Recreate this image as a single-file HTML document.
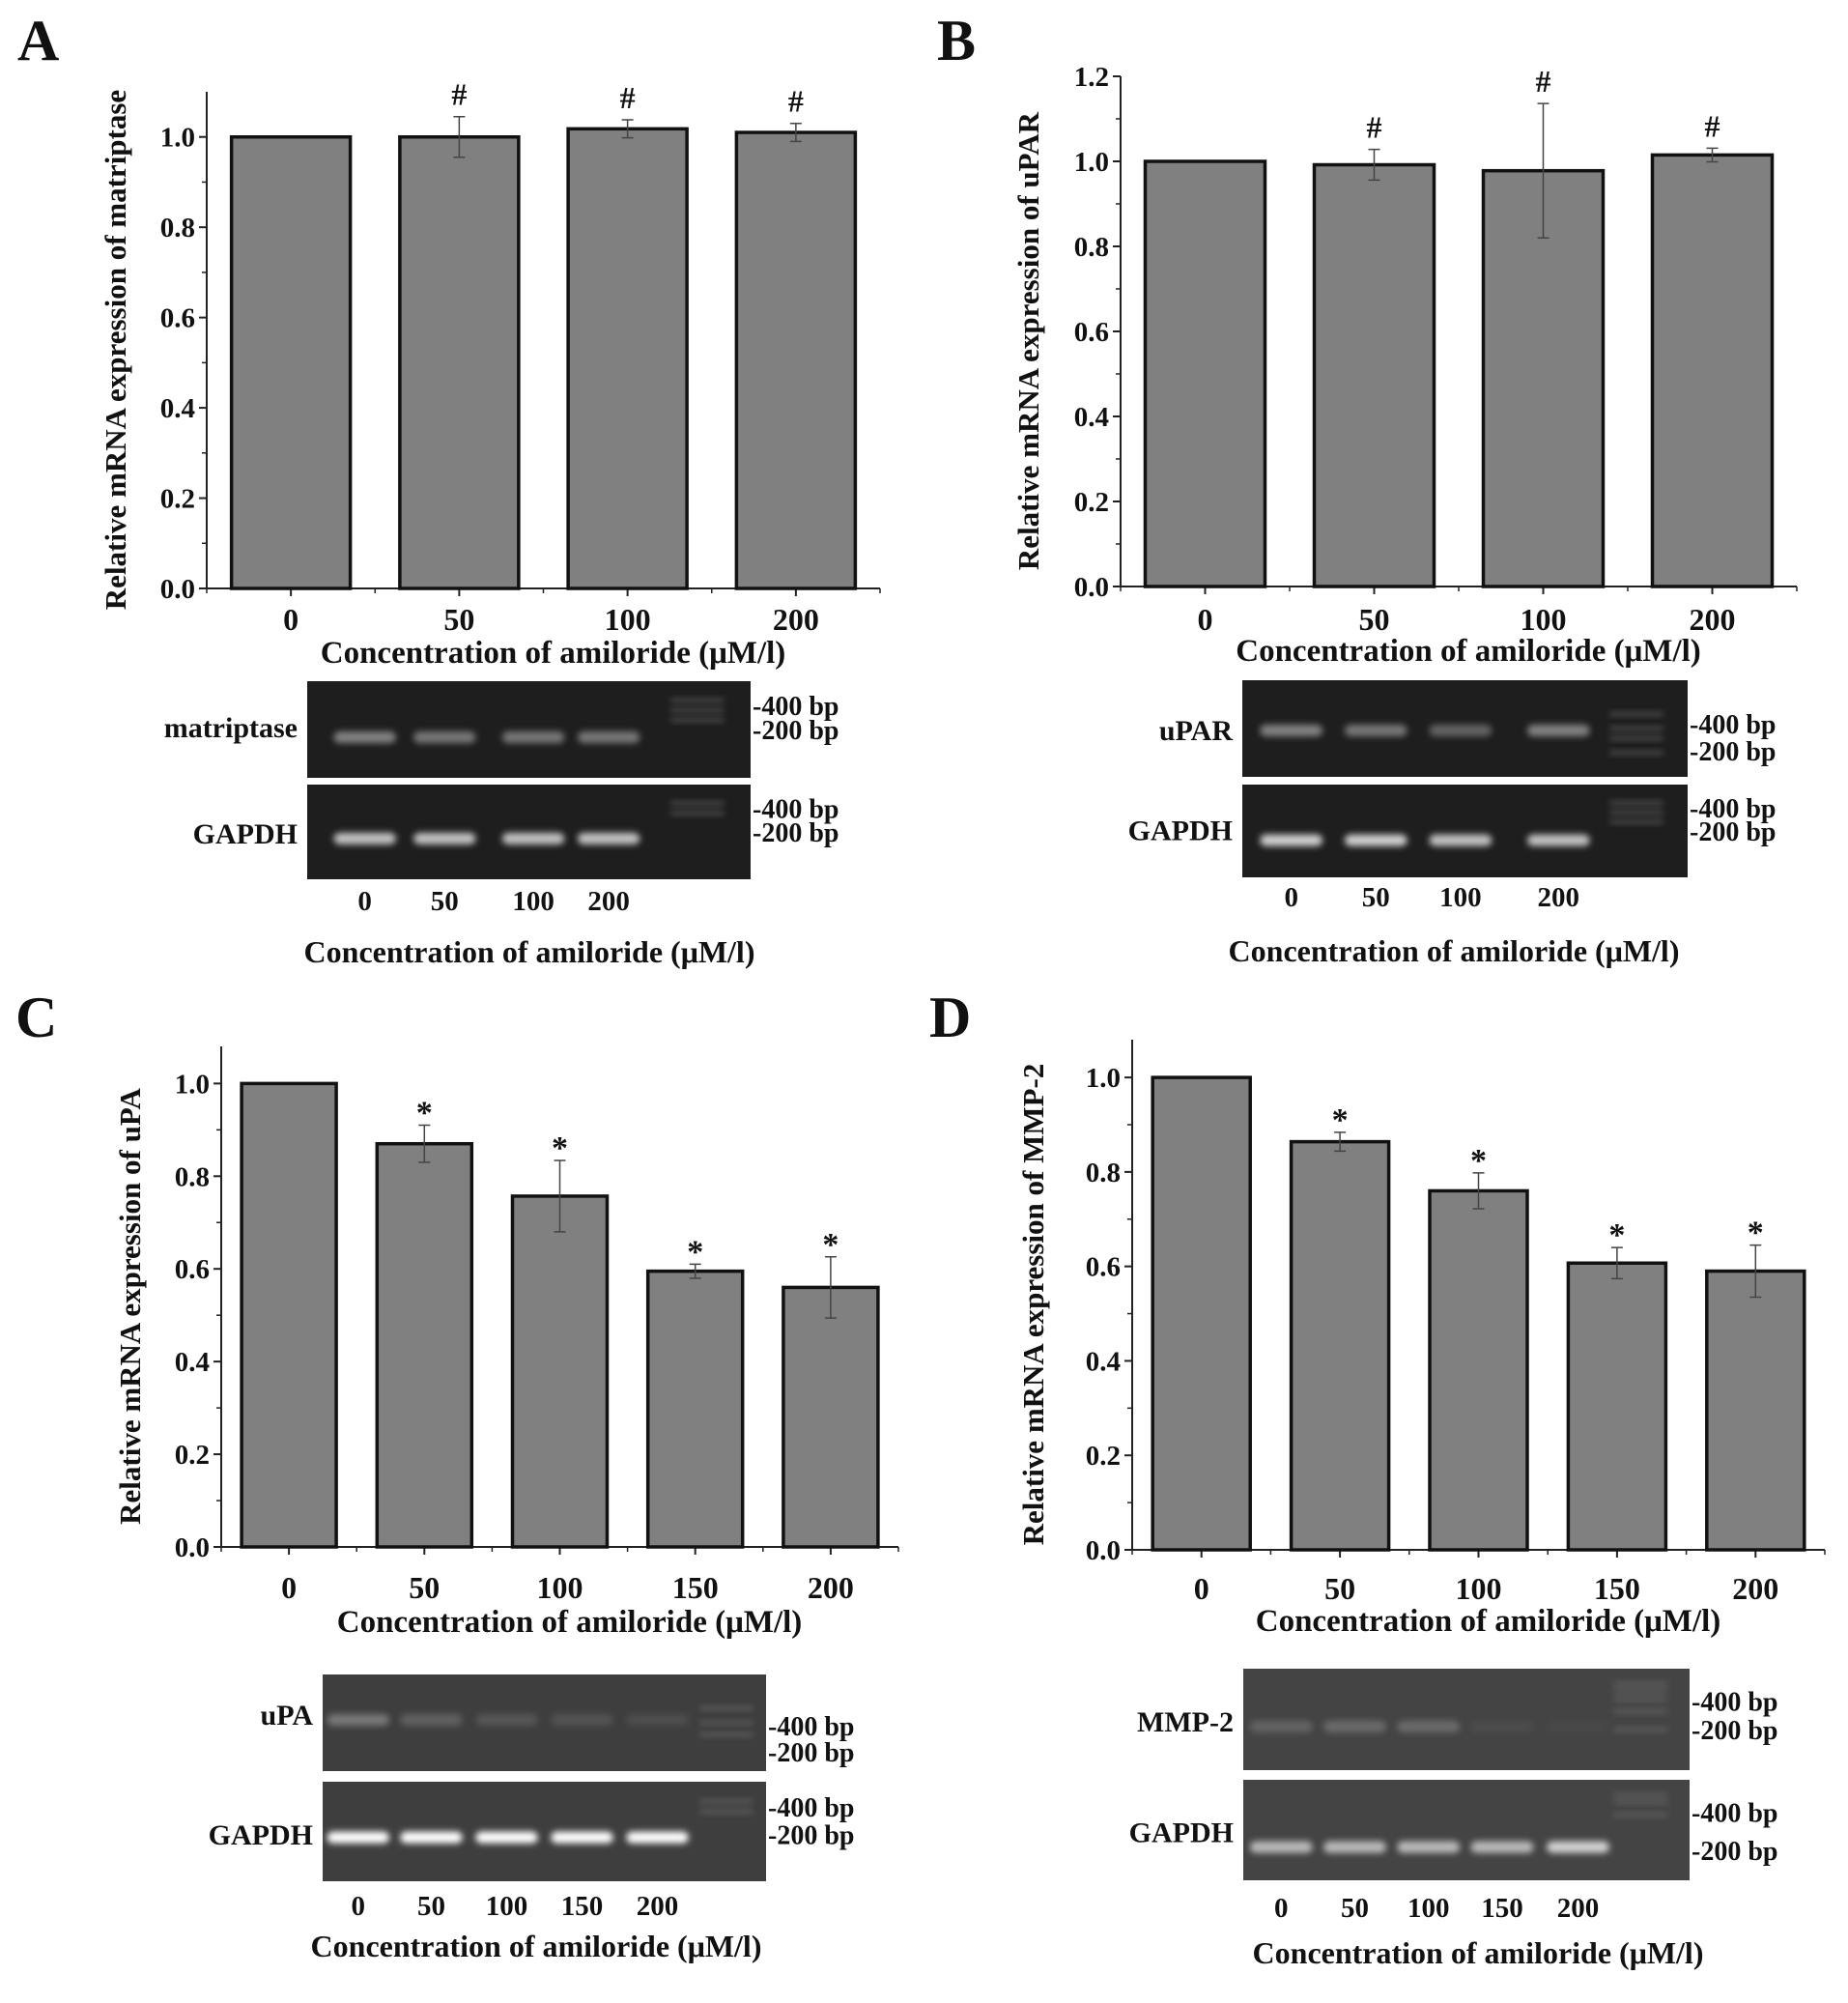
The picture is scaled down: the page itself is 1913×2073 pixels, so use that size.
<!DOCTYPE html>
<html><head><meta charset="utf-8">
<style>
body{margin:0;background:#fff;}
svg text{font-family:"Liberation Serif",serif;font-weight:bold;fill:#111;}
</style></head>
<body>
<svg id="fig" width="1913" height="2068" viewBox="0 0 1913 2068" xmlns="http://www.w3.org/2000/svg">
<defs>
<filter id="blur" x="-20%" y="-100%" width="140%" height="300%"><feGaussianBlur stdDeviation="3.5"/></filter>
</defs>
</svg>
<script>
// Panel A data
const catsA = ["0","50","100","200"];
const valsA = [1.0, 1.0, 1.018, 1.01];
const errsA = [0, 0.045, 0.02, 0.02];
const marksA = ["", "#", "#", "#"];
const ticksA = [0,0.2,0.4,0.6,0.8,1.0];
// Panel B data
const catsB = ["0","50","100","200"];
const valsB = [1.0, 0.992, 0.978, 1.015];
const errsB = [0, 0.036, 0.158, 0.016];
const marksB = ["", "#", "#", "#"];
const ticksB = [0,0.2,0.4,0.6,0.8,1.0,1.2];
// Panel C data
const catsC = ["0","50","100","150","200"];
const valsC = [1.0, 0.87, 0.757, 0.595, 0.56];
const errsC = [0, 0.04, 0.077, 0.015, 0.066];
const marksC = ["", "*", "*", "*", "*"];
const ticksC = [0,0.2,0.4,0.6,0.8,1.0];
// Panel D data
const catsD = ["0","50","100","150","200"];
const valsD = [1.0, 0.864, 0.76, 0.607, 0.59];
const errsD = [0, 0.02, 0.038, 0.033, 0.055];
const marksD = ["", "*", "*", "*", "*"];
const ticksD = [0,0.2,0.4,0.6,0.8,1.0];
// Gel band intensities (0..1)
const gelA1 = [0.55,0.5,0.5,0.5]; const gelA2 = [0.8,0.8,0.8,0.8];
const gelB1 = [0.55,0.5,0.4,0.55]; const gelB2 = [0.85,0.85,0.8,0.8];
const gelC1 = [0.45,0.3,0.22,0.2,0.15]; const gelC2 = [1,1,1,1,1];
const gelD1 = [0.3,0.35,0.35,0.1,0.05]; const gelD2 = [0.75,0.75,0.75,0.75,0.85];

const NS="http://www.w3.org/2000/svg";
const svg=document.getElementById('fig');
function mk(tag,attrs,parent,text){const e=document.createElementNS(NS,tag);for(const k in attrs)e.setAttribute(k,attrs[k]);if(text!==undefined)e.textContent=text;(parent||svg).appendChild(e);return e;}

function panel(p){
  const g=mk('g',{});
  
  
  const lab=mk('text',{x:p.lx,y:p.ly,'font-size':60},g,p.id);
  
  
  const y=v=>p.y0-(v/p.ymax)*(p.y0-p.ytop);
  const n=p.cats.length;
  const step=(p.xr-p.xl)/n;
  const cx=i=>p.xl+step*(i+0.5);
  const ax=mk('path',{d:`M${p.xl},${p.ytop} V${p.y0} H${p.xr}`,stroke:'#222','stroke-width':2,fill:'none'},g);
  
  
  p.ticks.forEach(t=>{
    mk('line',{x1:p.xl-8,x2:p.xl,y1:y(t),y2:y(t),stroke:'#222','stroke-width':2},g);
    const tl=mk('text',{x:p.xl-12,y:y(t)+10,'font-size':29,'text-anchor':'end'},g,t.toFixed(1));
    
    
  });
  for(let i=0;i<p.ticks.length-1;i++){const m=(p.ticks[i]+p.ticks[i+1])/2;mk('line',{x1:p.xl-5,x2:p.xl,y1:y(m),y2:y(m),stroke:'#222','stroke-width':1.5},g);}
  for(let i=0;i<=n;i++){mk('line',{x1:p.xl+step*i,x2:p.xl+step*i,y1:p.y0,y2:p.y0+5,stroke:'#222','stroke-width':1.5},g);}
  p.cats.forEach((c,i)=>{
    mk('line',{x1:cx(i),x2:cx(i),y1:p.y0,y2:p.y0+8,stroke:'#222','stroke-width':2},g);
    const tl=mk('text',{x:cx(i),y:p.tly,'font-size':32,'text-anchor':'middle'},g,c);
    
    
    const b=mk('rect',{x:cx(i)-p.bw/2,y:y(p.vals[i]),width:p.bw,height:p.y0-y(p.vals[i]),fill:'#808080',stroke:'#111','stroke-width':3.5},g);
    
    
    if(p.errs[i]>0){
      const e1=y(p.vals[i]+p.errs[i]),e2=y(p.vals[i]-p.errs[i]);
      const eb=mk('path',{d:`M${cx(i)},${e1}V${e2}M${cx(i)-6},${e1}H${cx(i)+6}M${cx(i)-6},${e2}H${cx(i)+6}`,stroke:'#444','stroke-width':1.5,fill:'none'},g);
      
      
    }
    if(p.marks[i]){
      const top=y(p.vals[i]+p.errs[i]);
      const mt=mk('text',{x:cx(i),y:top-(p.marks[i]==='#'?12:2),'font-size':p.marks[i]==='#'?32:34,'text-anchor':'middle',fill:'#222'},g,p.marks[i]);
      
      
    }
  });
  const xt=mk('text',{x:(p.xl+p.xr)/2+10,y:p.xty,'font-size':33,'text-anchor':'middle'},g,'Concentration of amiloride (μM/l)');
  
  
  const yt=mk('text',{x:0,y:0,'font-size':31,'text-anchor':'middle',transform:`translate(${p.ytx},${(p.ytop+p.y0)/2+10}) rotate(-90)`},g,p.ytitle);
  
  
  p.gels.forEach((gl,k)=>{
    const gg=mk('g',{},g);
    
    
    const w=p.gx2-p.gx1,h=gl.y2-gl.y1;
    mk('rect',{x:p.gx1,y:gl.y1,width:w,height:h,fill:p.gelbg},gg);
    gl.ints.forEach((v,i)=>{
      const bx=p.gx1+w*p.lanes[i];
      const c=Math.round(70+185*v);
      mk('rect',{x:bx-w*0.07,y:gl.y1+h*gl.by-6,width:w*0.14,height:12,rx:6,fill:`rgb(${c},${c},${c})`,opacity:0.35+0.65*v,filter:'url(#blur)'},gg);
    });
    const lx=p.gx1+w*p.ladder;
    gl.lad.forEach(f=>mk('rect',{x:lx-w*0.06,y:gl.y1+h*f-2,width:w*0.12,height:4,fill:'#777',opacity:0.6,filter:'url(#blur)'},gg));
    const nl=mk('text',{x:p.gx1-10,y:gl.y1+h*gl.ly,'font-size':30,'text-anchor':'end'},gg,gl.name);
    
    
    gl.bp.forEach(([t,f])=>{
      const bt=mk('text',{x:p.gx2+2,y:gl.y1+h*f+10,'font-size':28},gg,'-'+t);
      
      
    });
  });
  p.cats.forEach((c,i)=>{
    const t=mk('text',{x:p.gx1+(p.gx2-p.gx1)*p.lanes[i],y:p.lly,'font-size':29,'text-anchor':'middle'},g,c);
    
    
  });
  const bt=mk('text',{x:p.btx,y:p.bty,'font-size':32,'text-anchor':'middle'},g,'Concentration of amiloride (μM/l)');
  
  
}

panel({id:'A',lx:18,ly:62,xl:214,xr:911,y0:609,ytop:95,ymax:1.1,bw:123,ticks:ticksA,cats:catsA,vals:valsA,errs:errsA,marks:marksA,
  tly:652,xty:686,ytx:130,ytitle:'Relative mRNA expression of matriptase',
  gx1:318,gx2:777,gelbg:'#1e1e1e',lanes:[0.13,0.31,0.51,0.68],ladder:0.88,lly:942,btx:548,bty:996,
  gels:[{name:'matriptase',y1:705,y2:805,by:0.58,ly:0.58,ints:gelA1,lad:[0.2,0.3,0.4],bp:[['400 bp',0.25],['200 bp',0.5]]},
        {name:'GAPDH',y1:812,y2:910,by:0.57,ly:0.62,ints:gelA2,lad:[0.2,0.3],bp:[['400 bp',0.25],['200 bp',0.5]]}]});
panel({id:'B',lx:970,ly:62,xl:1160,xr:1860,y0:607,ytop:79,ymax:1.2,bw:124,ticks:ticksB,cats:catsB,vals:valsB,errs:errsB,marks:marksB,
  tly:652,xty:684,ytx:1075,ytitle:'Relative mRNA expression of uPAR',
  gx1:1286,gx2:1747,gelbg:'#1e1e1e',lanes:[0.11,0.30,0.49,0.71],ladder:0.885,lly:938,btx:1505,bty:995,
  gels:[{name:'uPAR',y1:704,y2:804,by:0.52,ly:0.62,ints:gelB1,lad:[0.35,0.5,0.6,0.75],bp:[['400 bp',0.45],['200 bp',0.73]]},
        {name:'GAPDH',y1:812,y2:908,by:0.6,ly:0.6,ints:gelB2,lad:[0.2,0.3,0.4],bp:[['400 bp',0.25],['200 bp',0.5]]}]});
panel({id:'C',lx:16,ly:1073,xl:229,xr:930,y0:1601,ytop:1083,ymax:1.08,bw:98,ticks:ticksC,cats:catsC,vals:valsC,errs:errsC,marks:marksC,
  tly:1654,xty:1689,ytx:145,ytitle:'Relative mRNA expression of uPA',
  gx1:334,gx2:793,gelbg:'#3e3e3e',lanes:[0.08,0.245,0.415,0.585,0.755],ladder:0.91,lly:1982,btx:555,bty:2025,
  gels:[{name:'uPA',y1:1733,y2:1833,by:0.47,ly:0.52,ints:gelC1,lad:[0.35,0.5,0.62],bp:[['400 bp',0.53],['200 bp',0.8]]},
        {name:'GAPDH',y1:1844,y2:1947,by:0.56,ly:0.63,ints:gelC2,lad:[0.2,0.3],bp:[['400 bp',0.25],['200 bp',0.53]]}]});
panel({id:'D',lx:962,ly:1073,xl:1172,xr:1889,y0:1604,ytop:1076,ymax:1.08,bw:101,ticks:ticksD,cats:catsD,vals:valsD,errs:errsD,marks:marksD,
  tly:1655,xty:1688,ytx:1080,ytitle:'Relative mRNA expression of MMP-2',
  gx1:1287,gx2:1749,gelbg:'#444444',lanes:[0.085,0.25,0.415,0.58,0.75],ladder:0.89,lly:1984,btx:1530,bty:2032,
  gels:[{name:'MMP-2',y1:1727,y2:1832,by:0.57,ly:0.62,ints:gelD1,lad:[0.15,0.22,0.3,0.42,0.6],bp:[['400 bp',0.32],['200 bp',0.6]]},
        {name:'GAPDH',y1:1842,y2:1946,by:0.67,ly:0.62,ints:gelD2,lad:[0.15,0.22,0.35],bp:[['400 bp',0.32],['200 bp',0.7]]}]});
</script>
</body></html>
